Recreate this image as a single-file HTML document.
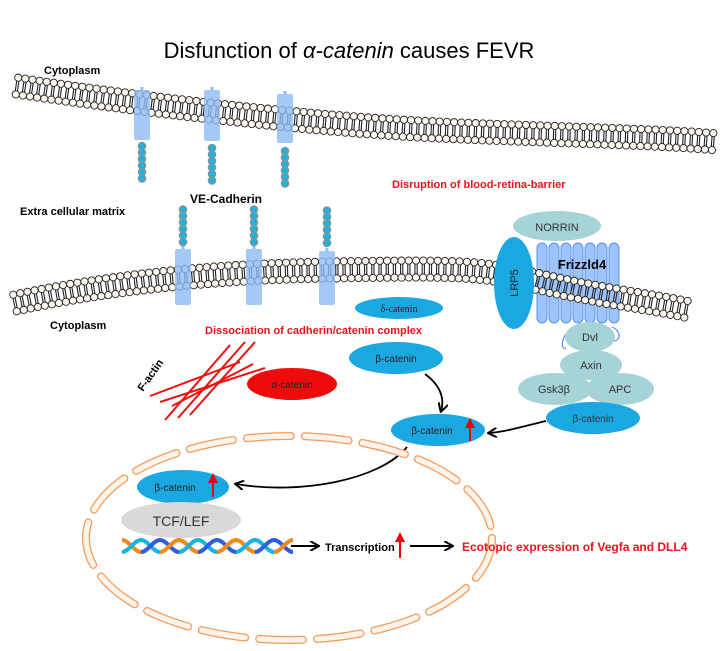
<!DOCTYPE html>
<html><head><meta charset="utf-8"><style>
html,body{margin:0;padding:0;background:#fff;}
svg{display:block;font-family:"Liberation Sans",Arial,sans-serif;}
</style></head><body>
<svg id="s" width="728" height="651" viewBox="0 0 728 651" xmlns="http://www.w3.org/2000/svg">
<defs>
<marker id="ah" markerWidth="10" markerHeight="10" refX="8" refY="5" orient="auto" markerUnits="userSpaceOnUse"><path d="M0,0 L9,5 L0,10" fill="none" stroke="#000" stroke-width="2"/></marker>
<marker id="ahr" markerWidth="10" markerHeight="10" refX="5" refY="5" orient="auto" markerUnits="userSpaceOnUse"><path d="M0,0 L10,5 L0,10 Z" fill="#e00"/></marker>
</defs>
<text x="349" y="58" font-size="22" text-anchor="middle">Disfunction of <tspan font-style="italic">α-catenin</tspan> causes FEVR</text>
<!-- Frizzled -->
<g fill="#9ec5fb" stroke="#5b8ef0" stroke-width="1">
<rect x="537" y="243" width="10" height="80" rx="5"/>
<rect x="549" y="243" width="10" height="80" rx="5"/>
<rect x="561" y="243" width="10" height="80" rx="5"/>
<rect x="573" y="243" width="10" height="80" rx="5"/>
<rect x="585" y="243" width="10" height="80" rx="5"/>
<rect x="597" y="243" width="10" height="80" rx="5"/>
<rect x="609" y="243" width="10" height="80" rx="5"/>
</g>
<path d="M565,335 C560,345 563,350 566,348 M612,327 C620,330 622,340 614,341" fill="none" stroke="#5b8ef0" stroke-width="1.2"/>
<g id="mem1"></g>
<g id="mem2"></g>
<g id="cads"></g>
<ellipse cx="557" cy="226" rx="44" ry="15" fill="#a5d3d6"/>
<text x="557" y="231" font-size="11" text-anchor="middle" fill="#333">NORRIN</text>
<ellipse cx="514" cy="283" rx="20" ry="46" fill="#1aa7e2"/>
<text x="0" y="0" font-size="11" text-anchor="middle" fill="#222" transform="translate(518,283) rotate(-90)">LRP5</text>
<text x="582" y="269" font-size="13" font-weight="bold" text-anchor="middle">Frizzld4</text>
<ellipse cx="590" cy="337" rx="25" ry="15" fill="#a5d3d6"/>
<ellipse cx="591" cy="365" rx="31" ry="15" fill="#a5d3d6"/>
<ellipse cx="555" cy="389" rx="37" ry="16" fill="#a5d3d6"/>
<ellipse cx="620" cy="389" rx="34" ry="16" fill="#a5d3d6"/>
<ellipse cx="593" cy="418" rx="47" ry="16" fill="#1aa7e2"/>
<g font-size="11" fill="#333" text-anchor="middle">
<text x="590" y="341">Dvl</text>
<text x="591" y="369">Axin</text>
<text x="554" y="393">Gsk3β</text>
<text x="620" y="393">APC</text>
<text x="593" y="422" font-size="10">β-catenin</text>
</g>
<g font-size="11" font-weight="bold">
<text x="44" y="74">Cytoplasm</text>
<text x="190" y="203" font-size="12">VE-Cadherin</text>
<text x="20" y="215">Extra cellular matrix</text>
<text x="50" y="329">Cytoplasm</text>
<text x="392" y="188" fill="#e8141b">Disruption of blood-retina-barrier</text>
<text x="205" y="334" fill="#e8141b">Dissociation of cadherin/catenin complex</text>
</g>
<ellipse cx="399" cy="308" rx="44" ry="11" fill="#1aa7e2"/>
<text x="399" y="312" font-size="10" text-anchor="middle" font-family="Liberation Serif,serif" fill="#222">δ-catenin</text>
<ellipse cx="396" cy="358" rx="47" ry="16" fill="#1aa7e2"/>
<text x="396" y="362" font-size="10" text-anchor="middle" fill="#222">β-catenin</text>
<ellipse cx="292" cy="384" rx="45" ry="16" fill="#ee0b0b"/>
<text x="292" y="388" font-size="10" text-anchor="middle" fill="#222">α-catenin</text>
<g stroke="#ee1111" stroke-width="2">
<line x1="165" y1="420" x2="230" y2="345"/>
<line x1="178" y1="418" x2="245" y2="342"/>
<line x1="190" y1="415" x2="255" y2="342"/>
<line x1="150" y1="396" x2="240" y2="362"/>
<line x1="160" y1="402" x2="265" y2="368"/>
<line x1="172" y1="406" x2="253" y2="364"/>
</g>
<text x="0" y="0" font-size="11" font-weight="bold" transform="translate(143,392) rotate(-55)">F-actin</text>
<ellipse cx="438" cy="430" rx="47" ry="16" fill="#1aa7e2"/>
<text x="432" y="434" font-size="10" text-anchor="middle" fill="#222">β-catenin</text>
<line x1="470" y1="441" x2="470" y2="423" stroke="#e00" stroke-width="2" marker-end="url(#ahr)"/>
<path d="M425,374 C440,385 445,398 441,411" fill="none" stroke="#000" stroke-width="1.8" marker-end="url(#ah)"/>
<path d="M546,421 C525,426 505,432 489,433" fill="none" stroke="#000" stroke-width="1.8" marker-end="url(#ah)"/>
<path d="M407,447 C380,480 300,495 236,484" fill="none" stroke="#000" stroke-width="1.8" marker-end="url(#ah)"/>
<ellipse cx="289" cy="538" rx="203" ry="102" fill="none" stroke="#f39a5a" stroke-width="8" stroke-dasharray="44 14" stroke-linecap="round"/>
<ellipse cx="289" cy="538" rx="203" ry="102" fill="none" stroke="#fff3ea" stroke-width="5.5" stroke-dasharray="44 14" stroke-linecap="round"/>
<ellipse cx="183" cy="487" rx="46" ry="17" fill="#1aa7e2"/>
<text x="175" y="491" font-size="10" text-anchor="middle" fill="#222">β-catenin</text>
<line x1="213" y1="497" x2="213" y2="478" stroke="#e00" stroke-width="2" marker-end="url(#ahr)"/>
<ellipse cx="181" cy="520" rx="60" ry="18" fill="#d9d9d9"/>
<text x="181" y="526" font-size="14" text-anchor="middle" fill="#333">TCF/LEF</text>
<g id="dna"></g>
<line x1="291" y1="546" x2="318" y2="546" stroke="#000" stroke-width="2" marker-end="url(#ah)"/>
<text x="325" y="551" font-size="11" font-weight="bold">Transcription</text>
<line x1="400" y1="558" x2="400" y2="537" stroke="#e00" stroke-width="2" marker-end="url(#ahr)"/>
<line x1="410" y1="546" x2="452" y2="546" stroke="#000" stroke-width="2" marker-end="url(#ah)"/>
<text x="462" y="551" font-size="12" font-weight="bold" fill="#e8141b">Ecotopic expression of Vegfa and DLL4</text>
</svg>
<script>
var NS="http://www.w3.org/2000/svg";
function el(p,t,a){var e=document.createElementNS(NS,t);for(var k in a)e.setAttribute(k,a[k]);p.appendChild(e);return e;}
function membrane(g,d){
 var p=el(g,"path",{d:d,fill:"none"});
 var L=p.getTotalLength(),step=7.2;
 var heads=[];
 for(var s=0;s<=L;s+=step){
  var a=p.getPointAtLength(s),b=p.getPointAtLength(Math.min(L,s+0.5)),c=p.getPointAtLength(Math.max(0,s-0.5));
  var dx=b.x-c.x,dy=b.y-c.y,n=Math.hypot(dx,dy)||1;var nx=-dy/n,ny=dx/n;
  var o=8.5;
  el(g,"line",{x1:a.x+nx*(o-3)-1,y1:a.y+ny*(o-3),x2:a.x-nx*(o-3)-1,y2:a.y-ny*(o-3),stroke:"#222","stroke-width":1.1});
  el(g,"line",{x1:a.x+nx*(o-3)+1.2,y1:a.y+ny*(o-3),x2:a.x-nx*(o-3)+1.2,y2:a.y-ny*(o-3),stroke:"#222","stroke-width":1.1});
  heads.push([a.x+nx*o,a.y+ny*o],[a.x-nx*o,a.y-ny*o]);
 }
 heads.forEach(function(h){el(g,"circle",{cx:h[0],cy:h[1],r:3.6,fill:"#fdf8ef",stroke:"#222","stroke-width":0.9});});
}
membrane(document.getElementById("mem1"),"M17,86 C150,106 300,122 400,128 S650,136 718,142");
membrane(document.getElementById("mem2"),"M15,303 C100,285 200,272 330,270 S480,268 540,282 S640,300 690,310");
var cg=document.getElementById("cads");
function cad(x,y1,y2,by,dir){
 el(cg,"rect",{x:x-8,y:y1,width:16,height:y2-y1,fill:"#8fbcf5",opacity:0.8,rx:2});
 el(cg,"rect",{x:x-1.5,y:y1-3,width:3,height:3,fill:"#8fbcf5"});
 for(var i=0;i<6;i++){el(cg,"circle",{cx:x,cy:by+dir*i*6.5,r:3.4,fill:"#19b3e8",stroke:"#6e9aa0","stroke-width":1.8});}
}
cad(142,90,140,146,1);cad(212,90,141,148,1);cad(285,94,143,151,1);
cad(183,249,305,242,-1);cad(254,249,305,242,-1);cad(327,251,305,243,-1);
var dg=document.getElementById("dna");
var cols=["#f08a1c","#1ab3e6","#2f5fe0","#f08a1c","#1ab3e6","#2f5fe0","#f08a1c","#1ab3e6","#2f5fe0"];
for(var i=0;i<9;i++){var x0=122+i*19;
 el(dg,"path",{d:"M"+x0+",540 C"+(x0+7)+",540 "+(x0+12)+",552 "+(x0+19)+",552",fill:"none",stroke:cols[i],"stroke-width":4});
 el(dg,"path",{d:"M"+x0+",552 C"+(x0+7)+",552 "+(x0+12)+",540 "+(x0+19)+",540",fill:"none",stroke:cols[(i+1)%9],"stroke-width":4});
}
</script>
</body></html>
